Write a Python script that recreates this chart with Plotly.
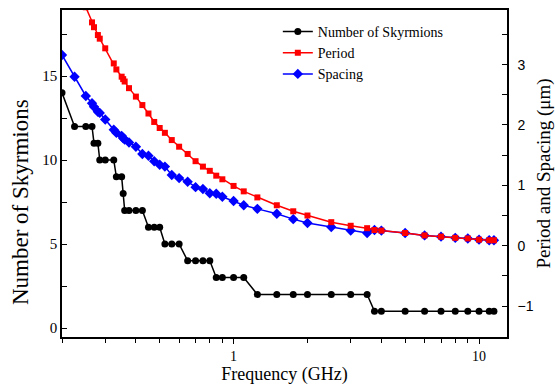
import plotly.graph_objects as go

freq = [0.2, 0.225, 0.25, 0.265, 0.27, 0.28, 0.285, 0.3, 0.325, 0.333, 0.35, 0.355, 0.36,
        0.375, 0.4, 0.425, 0.45, 0.475, 0.5, 0.525, 0.56, 0.6, 0.65, 0.7, 0.75, 0.8, 0.85,
        0.9, 1.0, 1.1, 1.25, 1.5, 1.75, 2.0, 2.5, 3.0, 3.5, 3.75, 4.0, 5.0, 6.0, 7.0, 8.0,
        9.0, 10.0, 11.0, 11.5]
n_skyrmions = [14, 12, 12, 12, 11, 11, 10, 10, 10, 9, 9, 8, 7,
               7, 7, 7, 6, 6, 6, 5, 5, 5, 4, 4, 4, 4, 3,
               3, 3, 3, 2, 2, 2, 2, 2, 2, 2, 1, 1, 1, 1, 1, 1,
               1, 1, 1, 1]
period = [None, None, 3.95, 3.70, 3.62, 3.49, 3.43, 3.27, 3.02, 2.92, 2.80, 2.76, 2.72,
          2.61, 2.47, 2.33, 2.19, 2.05, 1.95, 1.87, 1.75, 1.64, 1.52, 1.40, 1.31, 1.24, 1.16,
          1.10, 0.99, 0.90, 0.80, 0.67, 0.57, 0.50, 0.39, 0.33, 0.29, 0.26, 0.25, 0.21, 0.17,
          0.15, 0.13, 0.12, 0.10, 0.09, 0.09]
spacing = [3.16, 2.80, 2.48, 2.36, 2.30, 2.22, 2.20, 2.09, 1.92, 1.87, 1.82, 1.78, 1.76,
           1.71, 1.64, 1.52, 1.49, 1.40, 1.34, 1.31, 1.17, 1.12, 1.06, 0.97, 0.94, 0.87, 0.86,
           0.81, 0.74, 0.67, 0.61, 0.53, 0.44, 0.375, 0.31, 0.25, 0.21, 0.26, 0.25, 0.21, 0.17,
           0.15, 0.13, 0.12, 0.10, 0.09, 0.09]

x_major = [1, 10]
x_minor = [0.2, 0.3, 0.4, 0.5, 0.6, 0.7, 0.8, 0.9, 2, 3, 4, 5, 6, 7, 8, 9]

serif = "Liberation Serif"
sans = "Liberation Sans"

fig = go.Figure()
fig.add_trace(go.Scatter(x=freq, y=n_skyrmions, name="Number of Skyrmions", mode="lines+markers",
                         line=dict(color="black", width=1.5),
                         marker=dict(symbol="circle", size=7, color="black"),
                         yaxis="y", legendrank=1))
fig.add_trace(go.Scatter(x=freq, y=spacing, name="Spacing", mode="lines+markers",
                         line=dict(color="#0000ff", width=1.5),
                         marker=dict(symbol="diamond", size=8, color="#0000ff"),
                         yaxis="y2", legendrank=3))
fig.add_trace(go.Scatter(x=freq, y=period, name="Period", mode="lines+markers",
                         line=dict(color="#ff0000", width=1.5),
                         marker=dict(symbol="square", size=6, color="#ff0000"),
                         yaxis="y2", legendrank=2, connectgaps=False))

fig.update_layout(
    width=555, height=385,
    margin=dict(l=62, r=48, t=10, b=48, autoexpand=False),
    paper_bgcolor="white", plot_bgcolor="white",
    font=dict(family=serif, color="black"),
    showlegend=True,
    legend=dict(x=0.485, y=0.982, xanchor="left", yanchor="top",
                bgcolor="rgba(0,0,0,0)", font=dict(family=serif, size=14),
                tracegroupgap=0),
    xaxis=dict(type="log", range=[-0.699, 1.1139], automargin=False,
               showline=True, linecolor="black", linewidth=1.5, mirror=True,
               showgrid=False, zeroline=False,
               tickvals=x_major, ticktext=["1", "10"], ticks="outside", ticklen=5,
               tickcolor="black", tickfont=dict(family=serif, size=14),
               minor=dict(tickvals=x_minor, ticks="outside", ticklen=4, tickcolor="black", showgrid=False),
               title=dict(text="Frequency (GHz)", font=dict(family=serif, size=18), standoff=7)),
    yaxis=dict(range=[-0.536, 18.93], automargin=False,
               showline=True, linecolor="black", linewidth=1.5,
               showgrid=False, zeroline=False,
               tickvals=[0, 5, 10, 15], ticks="inside", ticklen=5, tickcolor="black",
               tickfont=dict(family=serif, size=15),
               minor=dict(dtick=2.5, tick0=0, ticks="inside", ticklen=5, tickcolor="black", showgrid=False)),
    yaxis2=dict(range=[-1.513, 3.905], overlaying="y", side="right", automargin=False,
                showline=True, linecolor="black", linewidth=1.5,
                showgrid=False, zeroline=False,
                tickvals=[-1, 0, 1, 2, 3], ticks="inside", ticklen=5, tickcolor="black",
                tickfont=dict(family=sans, size=14),
                minor=dict(dtick=0.5, tick0=0, ticks="inside", ticklen=5, tickcolor="black", showgrid=False),
                ticklabelstandoff=6,
                title=dict(text="Period and Spacing (μm)", font=dict(family=serif, size=19), standoff=8)),
    annotations=[dict(text="Number of Skyrmions", xref="paper", yref="paper",
                      x=-0.0944, y=0.4128, xanchor="center", yanchor="middle",
                      textangle=-90, showarrow=False,
                      font=dict(family=serif, size=23, color="black"))],
)

fig.write_html("out.html")
